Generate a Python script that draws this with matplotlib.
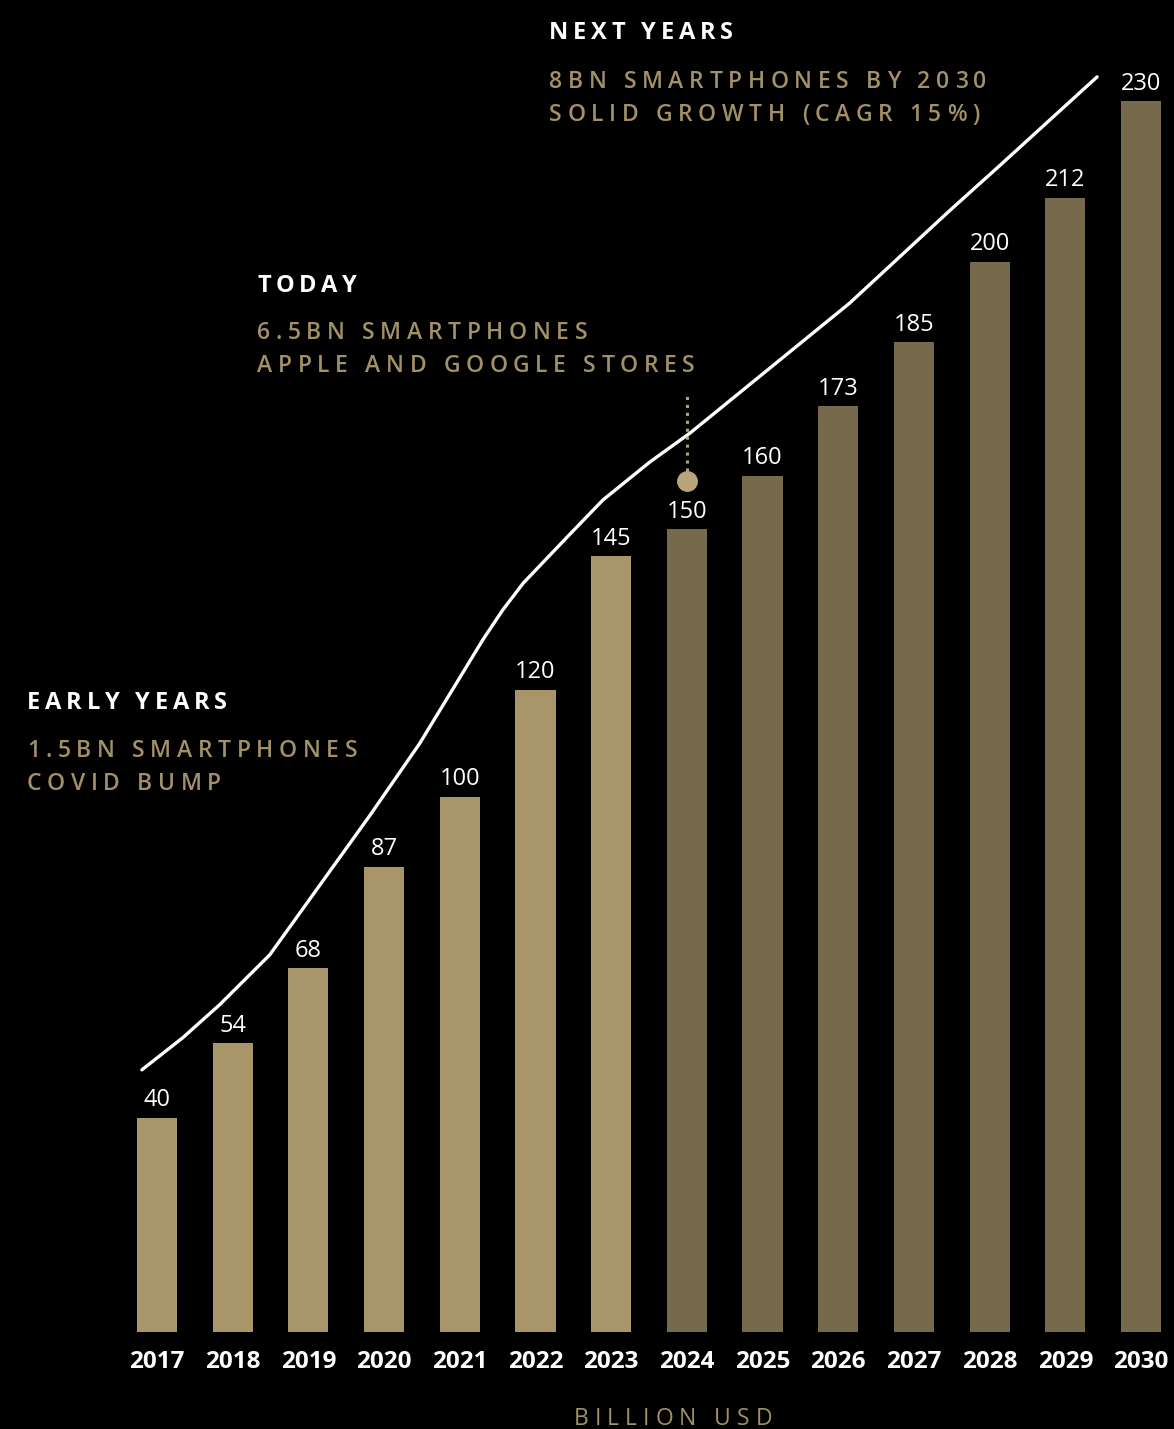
import matplotlib.pyplot as plt
from matplotlib.font_manager import FontProperties
from matplotlib.textpath import text_to_path

# data
years = list(range(2017, 2031))
revenue = [40, 54, 68, 87, 100, 120, 145, 150, 160, 173, 185, 200, 212, 230]
first_forecast = 2024

# white trend line drawn over the bars (year position, value)
trend_x = [2016.80, 2017.34, 2017.83, 2018.49, 2019.15, 2019.81, 2020.47, 2021.31,
           2021.57, 2021.84, 2022.42, 2022.89, 2023.51, 2024.04, 2025.23, 2026.15,
           2027.48, 2028.14, 2029.42]
trend_y = [49.0, 55.0, 61.2, 70.5, 83.5, 96.5, 110.0, 129.5,
           135.0, 140.0, 148.6, 155.5, 162.6, 168.0, 181.7, 192.3,
           209.7, 218.1, 234.6]

# "today" pin on 2024
pin_year = 2024
pin_range = [161, 175.5]
pin_dot = 159

W, H = 1174, 1429
light_bar = '#a8956a'
dark_bar = '#766a4c'
tan_text = '#a39166'

fig = plt.figure(figsize=(W / 100, H / 100), dpi=100, facecolor='black')
ax = fig.add_axes([0, 0, 1, 1])
ax.set_facecolor('black')
ax.axis('off')
ax.set_xlim(2014.926, 2030.436)
ax.set_ylim(-18.13, 248.97)

colors = [light_bar if y < first_forecast else dark_bar for y in years]
ax.bar(years, revenue, width=0.53, color=colors)

for y, v in zip(years, revenue):
    ax.annotate(str(v), (y, v), xytext=(0, 4), textcoords='offset points',
                ha='center', va='bottom', color='white', fontsize=17,
                family=['Open Sans', 'DejaVu Sans'])
    ax.text(y, -5.6, str(y), ha='center', va='center', color='white',
            fontsize=17.5, fontweight='bold', family=['Open Sans', 'DejaVu Sans'])

ax.plot(trend_x, trend_y, color='white', lw=2.4, solid_capstyle='round',
        solid_joinstyle='round')

ax.plot([pin_year, pin_year], pin_range, color='#b5a275', lw=2.2,
        linestyle=(0, (1, 1.6)))
ax.plot([pin_year], [pin_dot], 'o', color='#b9a678', markersize=14)


def tracked(x, y, s, size, color, weight='normal', spacing=4, ha='left'):
    # letter-spaced text, x/y in pixels from top-left, y is the baseline
    prop = FontProperties(family='Open Sans', size=size, weight=weight)
    base = text_to_path.get_text_width_height_descent('HH', prop, False)[0]
    widths = [text_to_path.get_text_width_height_descent('H' + c + 'H', prop, False)[0] - base
              for c in s]
    gap = spacing * 0.72
    total = sum(widths) + gap * (len(s) - 1)
    off = -total / 2 if ha == 'center' else 0
    for c, w in zip(s, widths):
        ax.annotate(c, (x / W, 1 - y / H), xycoords='figure fraction',
                    xytext=(off, 0), textcoords='offset points',
                    fontproperties=prop, color=color, va='baseline', ha='left')
        off += w + gap


tracked(549, 39, 'NEXT YEARS', 17, 'white', 'bold', 4.8)
tracked(549, 88, '8BN SMARTPHONES BY 2030', 16.5, tan_text, 'semibold', 5.6)
tracked(549, 121, 'SOLID GROWTH (CAGR 15%)', 16.5, tan_text, 'semibold', 5.6)

tracked(257, 292, 'TODAY', 17, 'white', 'bold', 4.8)
tracked(257, 339, '6.5BN SMARTPHONES', 16.5, tan_text, 'semibold', 5.6)
tracked(257, 372, 'APPLE AND GOOGLE STORES', 16.5, tan_text, 'semibold', 5.6)

tracked(27, 709, 'EARLY YEARS', 17, 'white', 'bold', 4.8)
tracked(27, 757, '1.5BN SMARTPHONES', 16.5, tan_text, 'semibold', 5.6)
tracked(27, 790, 'COVID BUMP', 16.5, tan_text, 'semibold', 5.6)

tracked(673, 1425, 'BILLION USD', 16.5, tan_text, 'normal', 6, ha='center')

fig.savefig('out.png', dpi=100, facecolor='black')
